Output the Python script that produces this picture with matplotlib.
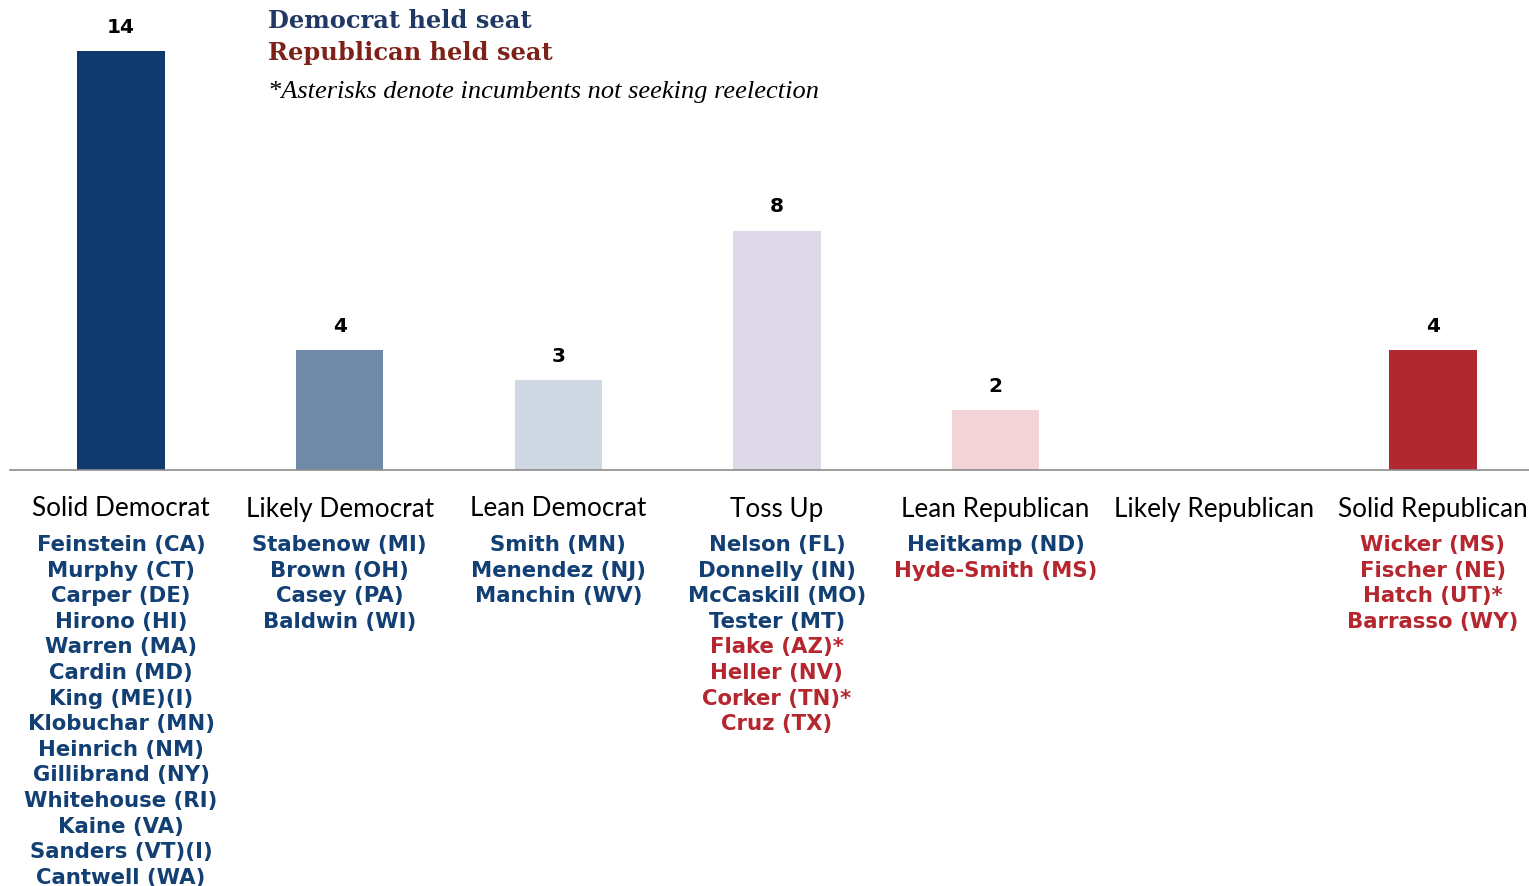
import matplotlib
matplotlib.use("Agg")
import matplotlib.pyplot as plt
from matplotlib.transforms import blended_transform_factory

# ---- data ----
categories = ["Solid Democrat", "Likely Democrat", "Lean Democrat", "Toss Up",
              "Lean Republican", "Likely Republican", "Solid Republican"]
seats = [14, 4, 3, 8, 2, 0, 4]
bar_colors = ["#0E3A6E", "#6F89A9", "#CFD8E3", "#DED9E9", "#F2D3D7", "#F2D3D7", "#B22831"]

D, R = "D", "R"
names = [
    [("Feinstein (CA)", D), ("Murphy (CT)", D), ("Carper (DE)", D), ("Hirono (HI)", D),
     ("Warren (MA)", D), ("Cardin (MD)", D), ("King (ME)(I)", D), ("Klobuchar (MN)", D),
     ("Heinrich (NM)", D), ("Gillibrand (NY)", D), ("Whitehouse (RI)", D), ("Kaine (VA)", D),
     ("Sanders (VT)(I)", D), ("Cantwell (WA)", D)],
    [("Stabenow (MI)", D), ("Brown (OH)", D), ("Casey (PA)", D), ("Baldwin (WI)", D)],
    [("Smith (MN)", D), ("Menendez (NJ)", D), ("Manchin (WV)", D)],
    [("Nelson (FL)", D), ("Donnelly (IN)", D), ("McCaskill (MO)", D), ("Tester (MT)", D),
     ("Flake (AZ)*", R), ("Heller (NV)", R), ("Corker (TN)*", R), ("Cruz (TX)", R)],
    [("Heitkamp (ND)", D), ("Hyde-Smith (MS)", R)],
    [],
    [("Wicker (MS)", R), ("Fischer (NE)", R), ("Hatch (UT)*", R), ("Barrasso (WY)", R)],
]
name_colors = {D: "#123F74", R: "#B5262F"}

W, H = 1529, 887
fig = plt.figure(figsize=(W / 100, H / 100), dpi=100)
base_px = 471
ax = fig.add_axes([10 / W, (H - base_px) / H, 1 - 10 / W, base_px / H])
x = list(range(len(categories)))
ax.bar(x, seats, width=0.4, color=bar_colors)
ax.set_xlim(-0.508, 6.44)
ax.set_ylim(0, base_px / 29.9)
for s in ["top", "right", "left"]:
    ax.spines[s].set_visible(False)
ax.spines["bottom"].set_color("#8C8C8C")
ax.spines["bottom"].set_linewidth(1.2)
ax.set_yticks([])
ax.set_xticks([])

for xi, v in zip(x, seats):
    if v > 0:
        ax.annotate(str(v), (xi, v), xytext=(0, 18), textcoords="offset points",
                    ha="center", va="center", fontsize=14.5, fontweight="bold",
                    family="DejaVu Sans", color="#000000")

tr = blended_transform_factory(ax.transData, fig.transFigure)
def fy(py):
    return 1 - py / H

for xi, c in zip(x, categories):
    ax.text(xi, fy(509), c, transform=tr, ha="center", va="center",
            fontsize=18.8, family="Lato", color="#000000")

for xi, col in zip(x, names):
    for k, (n, p) in enumerate(col):
        ax.text(xi, fy(545 + 25.6 * k), n, transform=tr, ha="center", va="center",
                fontsize=15.3, fontweight="bold", family="DejaVu Sans",
                color=name_colors[p])

fig.text(268 / W, fy(21), "Democrat held seat", ha="left", va="center",
         fontsize=17.4, fontweight="bold", family="DejaVu Serif", color="#203864")
fig.text(268 / W, fy(53), "Republican held seat", ha="left", va="center",
         fontsize=17.4, fontweight="bold", family="DejaVu Serif", color="#7E2118")
fig.text(268 / W, fy(92), "*Asterisks denote incumbents not seeking reelection",
         ha="left", va="center", fontsize=19, style="italic",
         family="Liberation Serif", color="#000000")

fig.savefig("out.png", dpi=100)
